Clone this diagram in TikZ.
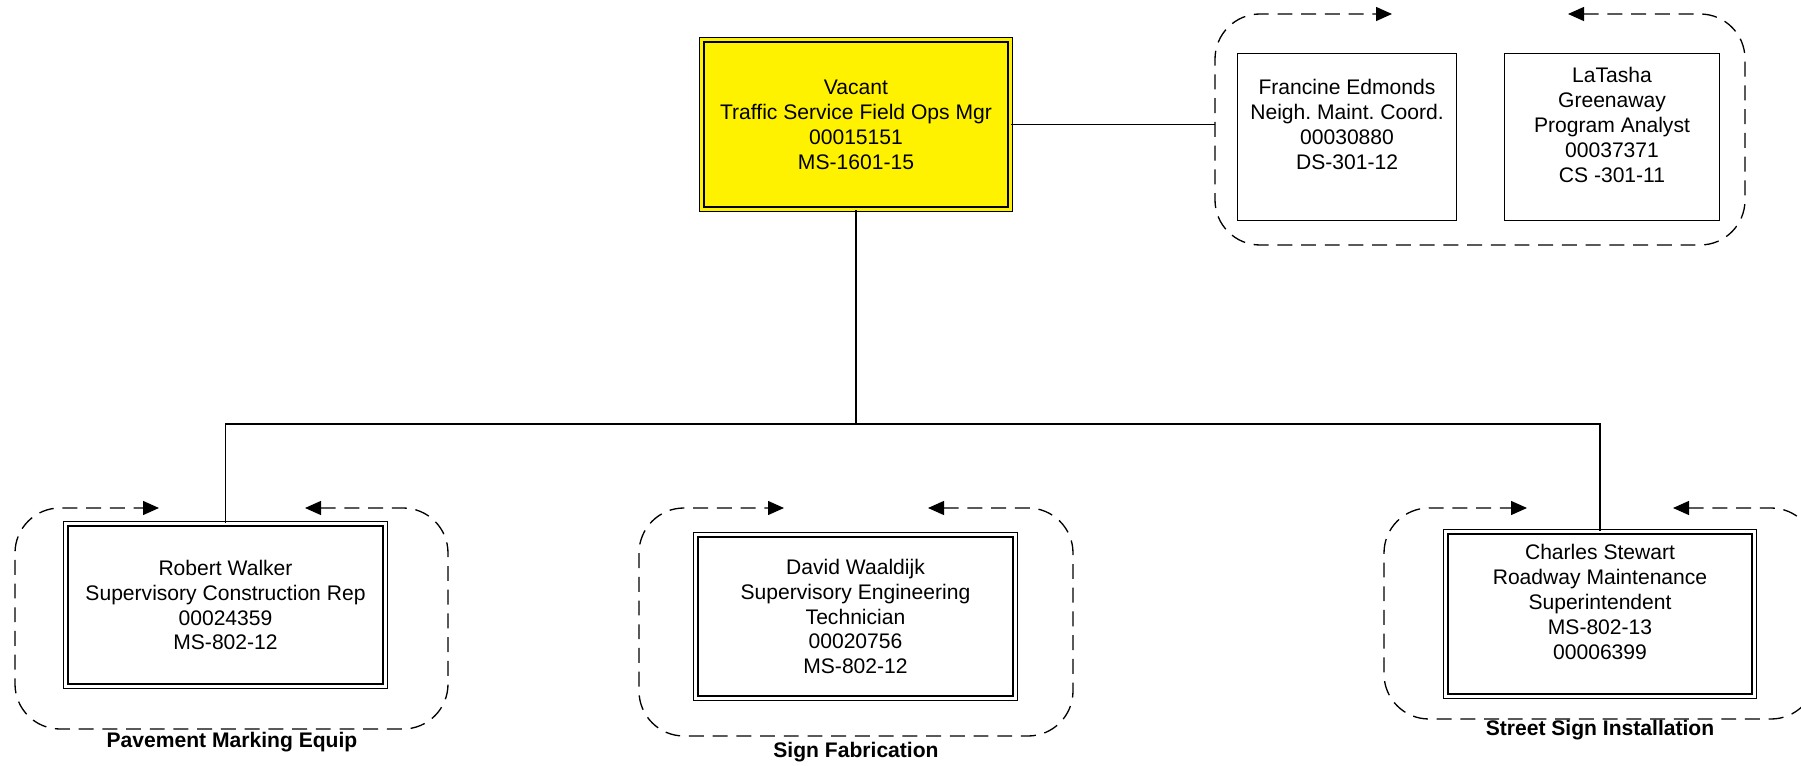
\documentclass[tikz,border=0pt]{standalone}
\usepackage{fontspec}
\setmainfont{Liberation Sans}
\usetikzlibrary{arrows.meta,positioning}

\tikzset{
    posbox/.style={draw, double, double distance=1.5pt, line width=0.9pt, align=center},
    staffbox/.style={draw, line width=0.8pt, align=center},
    link/.style={line width=0.75pt},
    teamframe/.style={line width=0.75pt, dash pattern=on 8.5pt off 5pt, rounded corners=0.9cm,
        {Triangle[length=0.32cm,width=0.28cm]}-{Triangle[length=0.32cm,width=0.28cm]}},
    teamlabel/.style={font={\fontsize{12}{14.2}\selectfont\bfseries}}
}

\begin{document}
\frenchspacing
\begin{tikzpicture}[x=0.02cm, y=-0.02cm, font=\fontsize{12}{14.2}\selectfont]
    \useasboundingbox (0,0) rectangle (1801,766);

    % manager and admin staff
    \node[posbox, fill=yellow, double=yellow, minimum width=6.17cm, minimum height=3.39cm] (mgr) at (856,124.5) {Vacant\\Traffic Service Field Ops Mgr\\00015151\\MS-1601-15};
    \node[staffbox, minimum width=4.37cm, minimum height=3.35cm] (edmonds) at (1347,137) {Francine Edmonds\\Neigh. Maint. Coord.\\00030880\\DS-301-12\\ \mbox{}};
    \node[staffbox, minimum width=4.29cm, minimum height=3.35cm] (greenaway) at (1612,137) {LaTasha\\Greenaway\\Program Analyst\\00037371\\CS -301-11\\ \mbox{}};

    % supervisors
    \node[posbox, minimum width=6.39cm, minimum height=3.25cm] (walker) at (225.5,605) {Robert Walker\\Supervisory Construction Rep\\00024359\\MS-802-12};
    \node[posbox, minimum width=6.39cm, minimum height=3.27cm] (waaldijk) at (855.5,616.5) {David Waaldijk\\Supervisory Engineering\\Technician\\00020756\\MS-802-12};
    \node[posbox, minimum width=6.17cm, minimum height=3.29cm] (stewart) at (1600,614) {Charles Stewart\\Roadway Maintenance\\Superintendent\\MS-802-13\\00006399\\ \mbox{}};

    \node[teamlabel] (pavement) at (232,742) {Pavement Marking Equip};
    \node[teamlabel] (fabrication) at (856,752) {Sign Fabrication};
    \node[teamlabel] (installation) at (1600,730) {Street Sign Installation};

    % team frames
    \draw[teamframe] (1568,14) -| (1745,245) -| (1215,14) -- (1392,14);
    \draw[teamframe] (305,508) -| (448,729) -| (15,508) -- (159,508);
    \draw[teamframe] (928,508) -| (1073,736) -| (639,508) -- (784,508);
    \draw[teamframe] (1673,508) -| (1816,719) -| (1384,508) -- (1527,508);

    % connectors
    \coordinate (adminlink) at (1215,124.5);
    \coordinate (bus) at (856,424);
    \draw[link] (mgr.east) -- (adminlink);
    \draw[link] (mgr.south) -- (bus);
    \draw[line width=1.6pt] ([yshift=1.44cm]bus) -- (bus);
    \draw[link] (walker.north) |- (bus) -| (stewart.north);
\end{tikzpicture}
\end{document}
